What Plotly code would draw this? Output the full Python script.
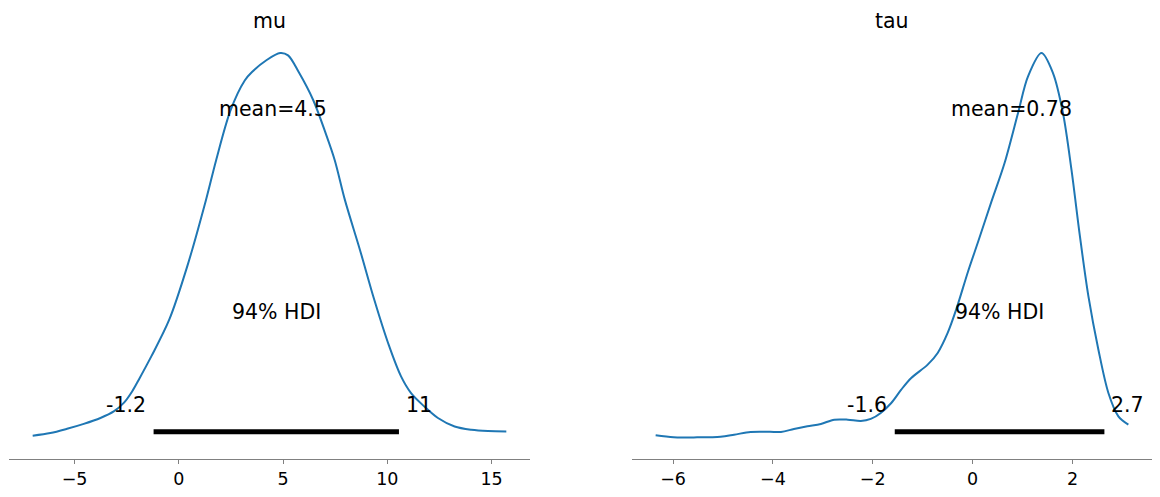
import plotly.graph_objects as go

# ---------------- data ----------------
mu_x = [-7.01, -6.16, -5.36, -4.56, -3.76, -3.12, -2.64, -2.24, -1.92, -1.32,
        -0.46, 0.40, 1.30, 1.79, 2.48, 3.17, 3.51, 4.20, 4.86, 5.24,
        5.75, 6.45, 7.05, 7.48, 7.97, 8.69, 9.38, 10.07, 10.66, 11.14,
        11.78, 12.43, 13.23, 14.03, 14.83, 15.71]
mu_density = [0.0013, 0.0021, 0.0034, 0.0049, 0.0067, 0.0087, 0.0113, 0.0148, 0.0184, 0.0255,
              0.0367, 0.0529, 0.0732, 0.0854, 0.1006, 0.1098, 0.1123, 0.1159, 0.1181, 0.1174,
              0.1123, 0.1037, 0.0935, 0.0854, 0.0732, 0.0580, 0.0427, 0.0290, 0.0194, 0.0143,
              0.0102, 0.0067, 0.0041, 0.0031, 0.0027, 0.0026]

tau_x = [-6.35, -5.99, -5.52, -5.05, -4.78, -4.45, -4.18, -3.84, -3.58, -3.31,
         -3.04, -2.77, -2.50, -2.24, -2.04, -1.84, -1.63, -1.43, -1.23, -0.90,
         -0.70, -0.50, -0.33, -0.09, 0.11, 0.37, 0.64, 0.91, 1.11, 1.38,
         1.61, 1.81, 1.98, 2.15, 2.32, 2.52, 2.72, 2.92, 3.12]
tau_density = [0.0050, 0.0028, 0.0028, 0.0036, 0.0057, 0.0087, 0.0090, 0.0087, 0.0119, 0.0148,
               0.0174, 0.0220, 0.0220, 0.0206, 0.0228, 0.0293, 0.0401, 0.0546, 0.0672, 0.0817,
               0.0944, 0.1161, 0.1413, 0.1830, 0.2150, 0.2574, 0.3004, 0.3547, 0.3944, 0.4197,
               0.3980, 0.3547, 0.2932, 0.2208, 0.1557, 0.0979, 0.0510, 0.0256, 0.0166]

var_names = ["mu", "tau"]
means = [4.5, 0.78]
mean_labels = ["mean=4.5", "mean=0.78"]
hdi_low = [-1.21, -1.56]
hdi_high = [10.56, 2.64]
hdi_low_labels = ["-1.2", "-1.6"]
hdi_high_labels = ["11", "2.7"]
hdi_text = "94% HDI"
mu_ticks = [-5, 0, 5, 10, 15]
tau_ticks = [-6, -4, -2, 0, 2]

# ---------------- figure ----------------
W, H = 1160, 497
FONT = "DejaVu Sans"
TXT = 20.5
BLUE = "#1f77b4"
GREY = "#808080"

x_domains = [[9 / W, 530 / W], [632 / W, 1152 / W]]
y_domain = [(H - 459.3) / H, (H - 33.7) / H]

series = [(mu_x, mu_density, mu_ticks), (tau_x, tau_density, tau_ticks)]

fig = go.Figure()
annotations = []
for i, (xs, ds, ticks) in enumerate(series):
    xa = "x" if i == 0 else "x2"
    ya = "y" if i == 0 else "y2"
    fig.add_trace(go.Scatter(x=xs, y=ds, mode="lines", xaxis=xa, yaxis=ya,
                             line=dict(color=BLUE, width=2, shape="spline", smoothing=0.9),
                             showlegend=False, hoverinfo="skip"))
    xr = max(xs) - min(xs)
    x_range = [min(xs) - 0.05 * xr, max(xs) + 0.05 * xr]
    peak = max(ds)
    y_range = [-0.05 * peak, 1.05 * peak]
    top = y_range[1]

    # HDI bar
    fig.add_trace(go.Scatter(x=[hdi_low[i], hdi_high[i]], y=[0.02 * top, 0.02 * top],
                             mode="lines", xaxis=xa, yaxis=ya,
                             line=dict(color="black", width=5),
                             showlegend=False, hoverinfo="skip"))

    axkey = "xaxis" if i == 0 else "xaxis2"
    aykey = "yaxis" if i == 0 else "yaxis2"
    fig.update_layout(**{
        axkey: dict(domain=x_domains[i], range=x_range, anchor=ya,
                    showline=True, linecolor=GREY, linewidth=1,
                    ticks="outside", ticklen=4, tickwidth=1, tickcolor=GREY,
                    tickvals=ticks, showgrid=False, zeroline=False,
                    tickfont=dict(family=FONT, size=17.5, color="black")),
        aykey: dict(domain=y_domain, range=y_range, anchor=xa, visible=False,
                    showgrid=False, zeroline=False),
    })

    tf = dict(family=FONT, size=TXT, color="black")
    # title
    annotations.append(dict(xref=f"{xa} domain", yref=f"{ya} domain", x=0.5, y=1,
                            text=var_names[i], showarrow=False, xanchor="center",
                            yanchor="bottom", yshift=-1, font=tf))
    # mean
    annotations.append(dict(xref=xa, yref=ya, x=means[i], y=0.8 * top, text=mean_labels[i],
                            showarrow=False, xanchor="center", yanchor="bottom", yshift=-8, font=tf))
    # HDI text
    annotations.append(dict(xref=xa, yref=ya, x=(hdi_low[i] + hdi_high[i]) / 2, y=0.3 * top,
                            text=hdi_text, showarrow=False, xanchor="center", yanchor="bottom",
                            yshift=-8, font=tf))
    # HDI bounds
    annotations.append(dict(xref=xa, yref=ya, x=hdi_low[i], y=0.07 * top, text=hdi_low_labels[i],
                            showarrow=False, xanchor="right", yanchor="bottom", xshift=-6,
                            yshift=-7, font=tf))
    annotations.append(dict(xref=xa, yref=ya, x=hdi_high[i], y=0.07 * top, text=hdi_high_labels[i],
                            showarrow=False, xanchor="left", yanchor="bottom", xshift=5,
                            yshift=-7, font=tf))

fig.update_layout(width=W, height=H, margin=dict(l=0, r=0, t=0, b=0),
                  plot_bgcolor="white", paper_bgcolor="white",
                  font=dict(family=FONT), annotations=annotations)

fig.write_html("out.html", config={"displayModeBar": False},
               post_script="document.body.style.margin='0';")
